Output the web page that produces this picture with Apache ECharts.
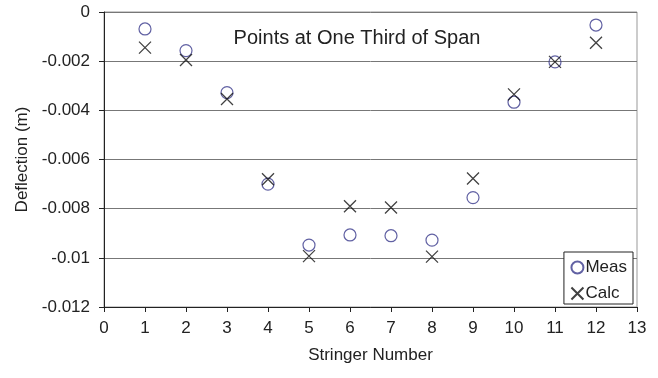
<!DOCTYPE html>
<html><head><meta charset="utf-8">
<script src="https://cdn.jsdelivr.net/npm/echarts@6/dist/echarts.min.js"></script>
<style>html,body{margin:0;padding:0;background:#fff}#c{width:658px;height:378px}</style>
</head><body><div id="c"></div>
<script>
const stringers = [1,2,3,4,5,6,7,8,9,10,11,12];
const meas = [-0.00069,-0.00157,-0.00328,-0.0070,-0.00948,-0.00907,-0.0091,-0.00928,-0.00755,-0.00367,-0.00203,-0.00053];
const calc = [-0.00145,-0.00195,-0.00354,-0.0068,-0.00993,-0.0079,-0.00795,-0.00995,-0.00677,-0.00335,-0.00203,-0.00125];
const titleText = 'Points at One Third of Span';
const xName = 'Stringer Number';
const yName = 'Deflection (m)';

const font = 'Liberation Sans, Arial, sans-serif';
const cross = 'path://M0,0L10,10M10,0L0,10';
const chart = echarts.init(document.getElementById('c'));
chart.setOption({
  animation:false,
  backgroundColor:'#fff',
  title:{text:titleText,left:357,top:28,textAlign:'center',padding:0,textStyle:{fontFamily:font,fontSize:20,fontWeight:'normal',color:'#222'}},
  grid:{left:104,top:12,right:21,bottom:71,show:true,borderColor:'#999',borderWidth:1},
  legend:{orient:'vertical',right:25,bottom:74,backgroundColor:'#fff',borderColor:'#222',borderWidth:1,padding:[7,6,2,5],itemGap:9,itemWidth:12,itemHeight:12,
    textStyle:{fontFamily:font,fontSize:17,color:'#222',padding:[0,0,0,-3]},
    data:[{name:'Meas'},{name:'Calc'}]},
  xAxis:{type:'value',min:0,max:13,interval:1,name:xName,nameLocation:'middle',nameGap:40,
    nameTextStyle:{fontFamily:font,fontSize:17,color:'#222'},
    axisLine:{onZero:false,lineStyle:{color:'#222'}},axisTick:{show:true,length:5,lineStyle:{color:'#222'}},
    axisLabel:{fontFamily:font,fontSize:17,color:'#222',margin:13},splitLine:{show:false}},
  yAxis:{type:'value',min:-0.012,max:0,interval:0.002,name:yName,nameLocation:'middle',nameGap:73,
    nameTextStyle:{fontFamily:font,fontSize:17,color:'#222'},
    axisLine:{show:true,onZero:false,lineStyle:{color:'#222'}},axisTick:{show:true,length:5,lineStyle:{color:'#222'}},
    axisLabel:{fontFamily:font,fontSize:17,color:'#222',margin:14,formatter:v=>String(parseFloat(v.toFixed(4)))},
    splitLine:{show:true,lineStyle:{color:'#777',width:1}}},
  series:[
    {name:'Meas',type:'scatter',data:stringers.map((s,i)=>[s,meas[i]]),symbol:'circle',symbolSize:12,
      itemStyle:{color:'transparent',borderColor:'#3a3a8c',borderWidth:1.2},z:3},
    {name:'Calc',type:'scatter',data:stringers.map((s,i)=>[s,calc[i]]),symbol:cross,symbolSize:12,
      itemStyle:{color:'none',borderColor:'#111',borderWidth:1.3},z:4}
  ]
});
</script></body></html>
